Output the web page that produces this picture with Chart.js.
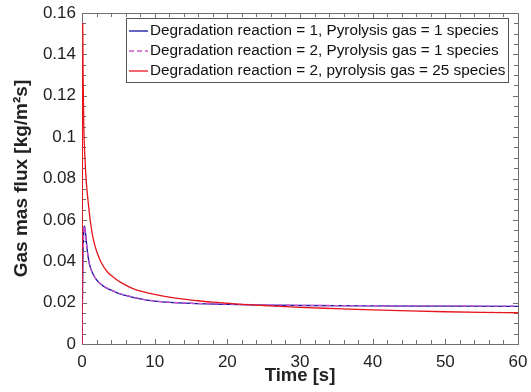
<!DOCTYPE html>
<html>
<head>
<meta charset="utf-8">
<script src="https://cdn.jsdelivr.net/npm/chart.js@4.4.1/dist/chart.umd.min.js"></script>
<style>
  html, body { margin: 0; padding: 0; background: #fff; }
  #wrap { width: 531px; height: 392px; position: relative; }
</style>
</head>
<body>
<div id="wrap"><canvas id="fluxChart"></canvas></div>
<script>
// time [s] and gas mass flux [kg/m2s]
const timeBlue = [0, 0.1, 0.2, 0.35, 0.5, 0.7, 1.0, 1.5, 2, 3, 4, 5, 6, 8, 10, 12, 15, 20, 25, 30, 40, 50, 60];
const fluxBlue = [0, 0.035, 0.052, 0.057, 0.053, 0.046, 0.039, 0.034, 0.031, 0.0278, 0.026, 0.0245, 0.0235, 0.0218, 0.0207, 0.0201, 0.0196, 0.0192, 0.0188, 0.0186, 0.0184, 0.0183, 0.0182];

const timePurple = [0, 0.1, 0.2, 0.35, 0.5, 0.7, 1.0, 1.5, 2, 3, 4, 5, 6, 8, 10, 12, 15, 20, 25, 30, 40, 50, 60];
const fluxPurple = [0, 0.034, 0.051, 0.057, 0.053, 0.046, 0.039, 0.034, 0.031, 0.0279, 0.0261, 0.0246, 0.0236, 0.0219, 0.0208, 0.0202, 0.0197, 0.0193, 0.0189, 0.0187, 0.0185, 0.0184, 0.0183];

const timeRed = [0, 0.1, 0.15, 0.25, 0.4, 0.6, 0.9, 1.2, 1.6, 2.1, 2.7, 3.5, 4.5, 5.5, 7, 8.5, 10, 12, 14, 16, 18, 20, 22, 25, 30, 35, 40, 45, 50, 55, 60];
const fluxRed = [0, 0.155, 0.13, 0.105, 0.09, 0.078, 0.067, 0.058, 0.05, 0.044, 0.039, 0.0348, 0.0318, 0.0294, 0.0268, 0.0252, 0.024, 0.0227, 0.0217, 0.0209, 0.0202, 0.0197, 0.0192, 0.0186, 0.0177, 0.0171, 0.0165, 0.016, 0.0156, 0.0153, 0.0151];

const seriesLabels = [
  'Degradation reaction = 1, Pyrolysis gas = 1 species',
  'Degradation reaction = 2, Pyrolysis gas = 1 species',
  'Degradation reaction = 2, pyrolysis gas = 25 species'
];

const xTicks = [0, 10, 20, 30, 40, 50, 60];
const xTickLabels = ['0', '10', '20', '30', '40', '50', '60'];
const yTicks = [0, 0.02, 0.04, 0.06, 0.08, 0.1, 0.12, 0.14, 0.16];
const yTickLabels = ['0', '0.02', '0.04', '0.06', '0.08', '0.1', '0.12', '0.14', '0.16'];

const toPoints = (xs, ys) => xs.map((x, i) => ({ x: x, y: ys[i] }));

const axisColor = '#707070';
const fontFamily = 'Liberation Sans, Arial, sans-serif';
const tickFont = { family: fontFamily, size: 17 };
// invisible outer ticks only push the labels away from the box
const hiddenTicks = len => ({ display: true, drawOnChartArea: false, drawTicks: true, tickLength: len, tickColor: 'rgba(0,0,0,0)' });

// MATLAB style box with inward ticks on all four sides, drawn under the lines
const boxPlugin = {
  id: 'boxPlugin',
  beforeDatasetsDraw(chart) {
    const ctx = chart.ctx;
    const a = chart.chartArea;
    const xs = chart.scales.x, ys = chart.scales.y;
    ctx.save();
    ctx.strokeStyle = axisColor;
    ctx.lineWidth = 1;
    ctx.beginPath();
    for (let t = 0; t <= 60; t += 2) {
      const px = Math.round(xs.getPixelForValue(t)) + 0.5;
      const len = t % 10 === 0 ? 5 : 4;
      ctx.moveTo(px, a.bottom); ctx.lineTo(px, a.bottom - len);
      ctx.moveTo(px, a.top); ctx.lineTo(px, a.top + len);
    }
    for (let k = 0; k <= 32; k++) {
      const py = Math.round(ys.getPixelForValue(k * 0.005)) + 0.5;
      const len = k % 4 === 0 ? 5 : 4;
      ctx.moveTo(a.left, py); ctx.lineTo(a.left + len, py);
      ctx.moveTo(a.right, py); ctx.lineTo(a.right - len, py);
    }
    ctx.stroke();
    ctx.strokeRect(Math.round(a.left) + 0.5, Math.round(a.top) + 0.5,
      Math.round(a.right - a.left), Math.round(a.bottom - a.top));
    ctx.restore();
  },
  afterDraw(chart) {
    // legend box inside the axes, top right
    const ctx = chart.ctx;
    const a = chart.chartArea;
    const bx = a.left + 44, by = a.top + 5, bw = 382, bh = 64;
    ctx.save();
    ctx.fillStyle = '#fff';
    ctx.fillRect(bx, by, bw, bh);
    ctx.strokeStyle = '#555';
    ctx.lineWidth = 1;
    ctx.strokeRect(bx + 0.5, by + 0.5, bw, bh);
    ctx.font = '15.3px ' + fontFamily;
    ctx.textBaseline = 'middle';
    chart.data.datasets.forEach((ds, i) => {
      const y = by + 13 + i * 20;
      ctx.strokeStyle = ds.borderColor;
      ctx.lineWidth = 1.3;
      ctx.setLineDash(ds.borderDash || []);
      ctx.beginPath();
      ctx.moveTo(bx + 3, y);
      ctx.lineTo(bx + 22, y);
      ctx.stroke();
      ctx.setLineDash([]);
      ctx.fillStyle = '#111';
      ctx.fillText(ds.label, bx + 24, y);
    });
    ctx.restore();
  }
};

const ctx = document.getElementById('fluxChart');
new Chart(ctx, {
  type: 'line',
  data: {
    datasets: [
      { label: seriesLabels[0], data: toPoints(timeBlue, fluxBlue), borderColor: '#1010a0', borderWidth: 1.3, order: 3 },
      { label: seriesLabels[1], data: toPoints(timePurple, fluxPurple), borderColor: '#cc55cc', borderDash: [5, 3], borderWidth: 1.3, order: 2 },
      { label: seriesLabels[2], data: toPoints(timeRed, fluxRed), borderColor: '#e8141c', borderWidth: 1.3, order: 1 }
    ]
  },
  options: {
    responsive: true,
    maintainAspectRatio: false,
    animation: false,
    layout: { padding: { left: 0, right: 13, top: 13, bottom: 0 } },
    elements: { point: { radius: 0 }, line: { tension: 0.3, cubicInterpolationMode: 'monotone' } },
    plugins: { legend: { display: false }, tooltip: { enabled: false } },
    scales: {
      x: {
        type: 'linear', min: 0, max: 60,
        grid: hiddenTicks(8),
        border: { display: false },
        afterBuildTicks: s => { s.ticks = xTicks.map(v => ({ value: v })); },
        afterFit: s => { s.height = 48; },
        ticks: { color: '#222', font: tickFont, padding: 0, maxRotation: 0,
          callback: (v, i) => xTickLabels[i] },
        title: { display: true, text: 'Time [s]', color: '#222',
          font: { family: fontFamily, size: 18.5, weight: 'bold' },
          padding: { top: 0, bottom: 5 } }
      },
      y: {
        type: 'linear', min: 0, max: 0.16,
        grid: hiddenTicks(6),
        border: { display: false },
        afterBuildTicks: s => { s.ticks = yTicks.map(v => ({ value: v })); },
        afterFit: s => { s.width = 82; },
        ticks: { color: '#222', font: tickFont, padding: 0,
          callback: (v, i) => yTickLabels[i] },
        title: { display: true, text: 'Gas mas flux [kg/m\u00b2s]', color: '#222',
          font: { family: fontFamily, size: 19, weight: 'bold' },
          padding: { top: 10, bottom: 0 } }
      }
    }
  },
  plugins: [boxPlugin]
});
</script>
</body>
</html>
